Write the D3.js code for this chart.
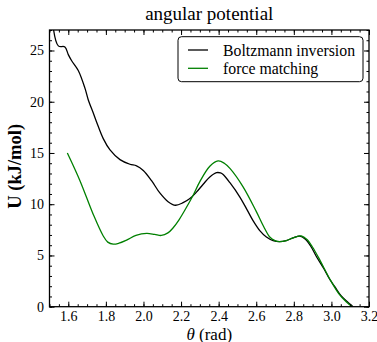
<!DOCTYPE html>
<html><head><meta charset="utf-8">
<script src="https://cdn.jsdelivr.net/npm/d3@7"></script>
<style>body{margin:0;background:#fff}svg{display:block}text{font-family:"Liberation Serif","DejaVu Serif",serif;fill:#000}</style>
</head><body>
<svg id="c" width="377" height="342"></svg>
<script>
const biTheta=[1.515,1.547,1.582,1.60,1.618,1.653,1.689,1.706,1.733,1.751,1.786,1.822,1.875,1.928,1.963,1.999,2.043,2.087,2.131,2.17,2.211,2.247,2.283,2.32,2.353,2.389,2.41,2.424,2.46,2.513,2.55,2.583,2.62,2.654,2.69,2.723,2.76,2.80,2.832,2.86,2.89,2.92,2.96,2.99,3.02,3.05,3.08,3.10,3.115];
const biU=[28.0,25.45,25.35,24.6,24.0,23.05,21.3,20.2,18.9,18.0,16.4,15.3,14.35,13.9,13.75,13.3,12.3,11.1,10.25,9.9,10.15,10.55,11.2,12.0,12.66,13.08,13.05,12.9,12.1,10.7,9.5,8.4,7.4,6.8,6.45,6.35,6.45,6.75,6.88,6.6,5.9,4.9,3.7,2.7,1.9,1.1,0.55,0.25,0.0];
const fmTheta=[1.595,1.662,1.733,1.786,1.81,1.839,1.87,1.91,1.96,2.017,2.06,2.095,2.13,2.158,2.19,2.229,2.265,2.3,2.353,2.397,2.43,2.46,2.53,2.6,2.64,2.672,2.70,2.723,2.76,2.80,2.84,2.87,2.90,2.94,2.99,3.04,3.08,3.11];
const fmU=[15.0,12.3,9.0,6.9,6.3,6.1,6.2,6.5,6.95,7.15,7.05,6.95,7.2,7.7,8.5,9.7,10.9,12.2,13.7,14.22,14.0,13.5,11.7,9.3,7.8,6.8,6.45,6.35,6.45,6.75,6.9,6.55,5.8,4.5,2.75,1.25,0.45,0.0];
const xTicks=[1.6,1.8,2.0,2.2,2.4,2.6,2.8,3.0,3.2];
const yTicks=[0,5,10,15,20,25];
const seriesNames=["Boltzmann inversion","force matching"];
const seriesColors=["#000000","#008000"];

const svg=d3.select("#c");
const L=49.5,R=369,T=30,B=306.7;
const x=d3.scaleLinear().domain([1.5,3.2]).range([L,R]);
const y=d3.scaleLinear().domain([0,27]).range([B,T]);

svg.append("clipPath").attr("id","clip").append("rect").attr("x",L).attr("y",T).attr("width",R-L).attr("height",B-T);

const line=d3.line().x(d=>x(d[0])).y(d=>y(d[1])).curve(d3.curveCatmullRom.alpha(0.5));
const g=svg.append("g").attr("clip-path","url(#clip)");
g.append("path").datum(d3.zip(biTheta,biU)).attr("d",line).attr("fill","none").attr("stroke",seriesColors[0]).attr("stroke-width",1.3);
g.append("path").datum(d3.zip(fmTheta,fmU)).attr("d",line).attr("fill","none").attr("stroke",seriesColors[1]).attr("stroke-width",1.3);

const xMinor=d3.range(1.5,3.2001,0.05);
const yMinor=d3.range(0,27.001,1);
function ticks(axis,vals,len,labels){
  let gg;
  if(axis==="b"){gg=svg.append("g").attr("transform",`translate(0,${B})`).call(d3.axisBottom(x).tickValues(vals).tickSizeInner(-len).tickSizeOuter(0).tickFormat(labels?d3.format(".1f"):""));}
  if(axis==="t"){gg=svg.append("g").attr("transform",`translate(0,${T})`).call(d3.axisTop(x).tickValues(vals).tickSizeInner(-len).tickSizeOuter(0).tickFormat(""));}
  if(axis==="l"){gg=svg.append("g").attr("transform",`translate(${L},0)`).call(d3.axisLeft(y).tickValues(vals).tickSizeInner(-len).tickSizeOuter(0).tickFormat(labels?d3.format("d"):""));}
  if(axis==="r"){gg=svg.append("g").attr("transform",`translate(${R},0)`).call(d3.axisRight(y).tickValues(vals).tickSizeInner(-len).tickSizeOuter(0).tickFormat(""));}
  gg.select(".domain").remove();
  gg.selectAll("line").attr("stroke","#000").attr("stroke-width",1);
  gg.selectAll("text").attr("font-size",14).attr("font-family",'"Liberation Serif",serif');
  return gg;
}
["b","t"].forEach(a=>ticks(a,xMinor,2.5,false));
["l","r"].forEach(a=>ticks(a,yMinor,2.5,false));
const bx=ticks("b",xTicks,5,true); bx.selectAll("text").attr("dy","0.71em").attr("y",4.5);
ticks("t",xTicks,5,false);
const ly=ticks("l",yTicks,5,true); ly.selectAll("text").attr("x",-5.5);
ticks("r",yTicks,5,false);

svg.append("rect").attr("x",L).attr("y",T).attr("width",R-L).attr("height",B-T).attr("fill","none").attr("stroke","#000").attr("stroke-width",1.3);

svg.append("text").attr("x",(L+R)/2).attr("y",20).attr("text-anchor","middle").attr("font-size",19).text("angular potential");
const xl=svg.append("text").attr("x",(L+R)/2).attr("y",339.5).attr("text-anchor","middle").attr("font-size",17);
xl.append("tspan").attr("font-style","italic").text("θ");
xl.append("tspan").text(" (rad)");
svg.append("text").attr("transform",`translate(21,${(T+B)/2-2}) rotate(-90)`).attr("text-anchor","middle").attr("font-size",18.5).attr("font-weight","bold").text("U (kJ/mol)");

const lg=svg.append("g");
lg.append("rect").attr("x",178).attr("y",36.7).attr("width",185).attr("height",45).attr("rx",3.5).attr("fill","#fff").attr("stroke","#000").attr("stroke-width",1);
seriesNames.forEach((n,i)=>{
  const yy=50+i*18.3;
  lg.append("line").attr("x1",188).attr("x2",208).attr("y1",yy).attr("y2",yy).attr("stroke",seriesColors[i]).attr("stroke-width",1.3);
  lg.append("text").attr("x",223).attr("y",yy).attr("dy","0.35em").attr("font-size",15.8).text(n);
});
</script>
</body></html>
